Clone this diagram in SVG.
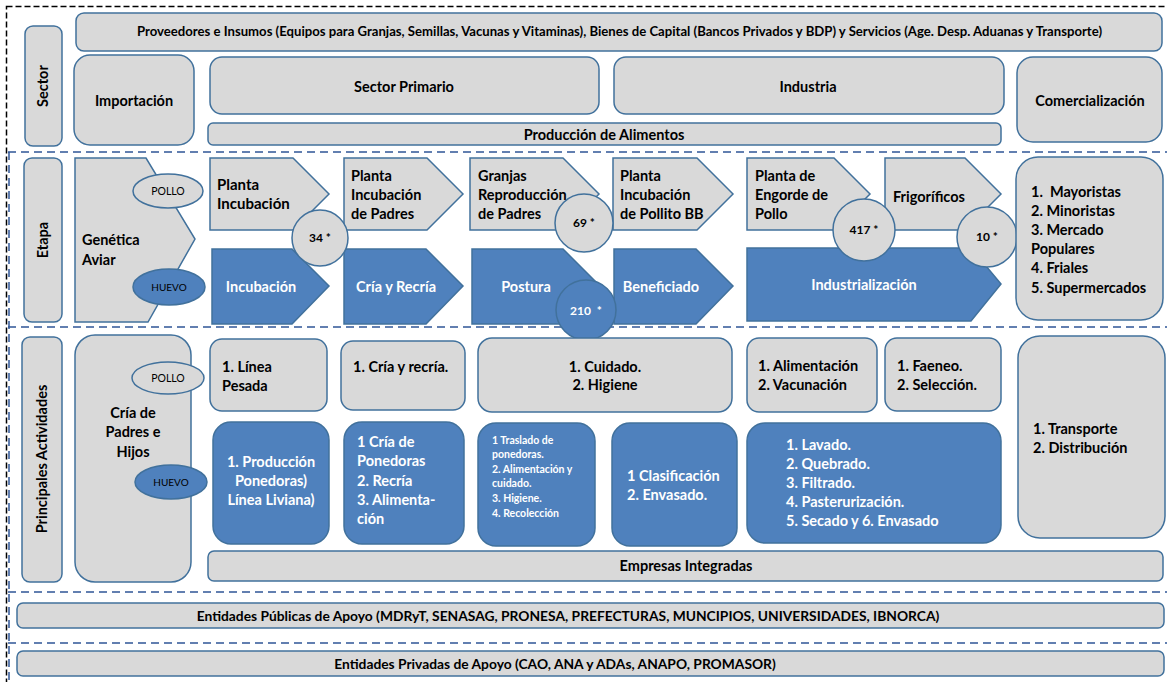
<svg xmlns="http://www.w3.org/2000/svg" width="1167" height="682" viewBox="0 0 1167 682">
<style>
.g{fill:#D9D9D9;stroke:#41719C;stroke-width:1.5}
.b{fill:#4F81BD;stroke:#41719C;stroke-width:1.5}
.t{font-family:Lato,"Liberation Sans",sans-serif;font-weight:bold;fill:#000;font-size:14.5px}
.w{fill:#fff}
.c{text-anchor:middle}
.s{font-size:13px}
.e{font-family:Lato,"Liberation Sans",sans-serif;font-size:10.5px;fill:#000;text-anchor:middle}
.n{font-size:12px}
.sep{stroke:#2F5597;stroke-width:1.5;stroke-dasharray:8 5;fill:none}
</style>
<rect width="1167" height="682" fill="#fff"/>
<g id="frame">
<rect x="6.5" y="6.5" width="1170" height="690" fill="none" stroke="#000" stroke-width="1.5" stroke-dasharray="6 3"/>
<line class="sep" x1="8" y1="152" x2="1167" y2="152"/>
<line class="sep" x1="8" y1="327" x2="1167" y2="327"/>
<line class="sep" x1="8" y1="592" x2="1167" y2="592"/>
<line class="sep" x1="8" y1="643" x2="1167" y2="643"/>
<line class="sep" x1="9" y1="152" x2="9" y2="682"/>
</g>
<g id="sector-row">
<g id="n-sector"><rect class="g" x="25" y="26" width="37" height="120" rx="8"/><text class="t c" transform="translate(48,86) rotate(-90)">Sector</text></g>
<g id="n-proveedores"><rect class="g" x="76" y="13" width="1086" height="38" rx="8"/><text class="t c s" x="619.5" y="36" textLength="965" lengthAdjust="spacingAndGlyphs">Proveedores e Insumos (Equipos para Granjas, Semillas, Vacunas y Vitaminas), Bienes de Capital (Bancos Privados y BDP) y Servicios (Age. Desp. Aduanas y Transporte)</text></g>
<g id="n-importacion"><rect class="g" x="74" y="55" width="120" height="90" rx="16"/><text class="t c" x="134" y="106">Importación</text></g>
<g id="n-primario"><rect class="g" x="210" y="57" width="389" height="57" rx="12"/><text class="t c" x="404" y="92">Sector Primario</text></g>
<g id="n-industria"><rect class="g" x="614" y="57" width="390" height="57" rx="12"/><text class="t c" x="808" y="92">Industria</text></g>
<g id="n-comercializacion"><rect class="g" x="1017" y="57" width="145" height="85" rx="16"/><text class="t c" x="1090" y="106">Comercialización</text></g>
<g id="n-produccion"><rect class="g" x="208" y="123" width="793" height="22" rx="5"/><text class="t c" x="604" y="140">Producción de Alimentos</text></g>
</g>
<g id="etapa-row">
<g id="n-etapa"><rect class="g" x="24" y="158" width="38" height="164" rx="8"/><text class="t c" transform="translate(48,240) rotate(-90)">Etapa</text></g>
<g id="n-genetica"><polygon class="g" points="75,158 146,158 195,239 148,322 75,322"/><text class="t" x="82" y="245">Genética</text><text class="t" x="82" y="265">Aviar</text></g>
<g id="n-e-pollo"><ellipse class="g" cx="168" cy="191" rx="35" ry="17"/><text class="e" x="168" y="195">POLLO</text></g>
<g id="n-e-huevo"><ellipse class="b" cx="169" cy="287" rx="36" ry="18"/><text class="e w" x="169" y="291" style="font-size:10px">HUEVO</text></g>
<g id="n-p1"><polygon class="g" points="210,158 293,158 329,194 293,230 210,230"/><text class="t" x="217" y="190" style="font-size:15px">Planta</text><text class="t" x="217" y="209" style="font-size:15px">Incubación</text></g>
<g id="n-p2"><polygon class="g" points="344,158 427,158 463,194 427,230 344,230"/><text class="t" x="351" y="181">Planta</text><text class="t" x="351" y="200">Incubación</text><text class="t" x="351" y="219">de Padres</text></g>
<g id="n-p3"><polygon class="g" points="470,158 563,158 599,194 563,230 470,230"/><text class="t" x="478" y="181">Granjas</text><text class="t" x="478" y="200">Reproducción</text><text class="t" x="478" y="219">de Padres</text></g>
<g id="n-p4"><polygon class="g" points="613,158 697,158 733,194 697,230 613,230"/><text class="t" x="620" y="181">Planta</text><text class="t" x="620" y="200">Incubación</text><text class="t" x="620" y="219">de Pollito BB</text></g>
<g id="n-p5"><polygon class="g" points="747,158 834,158 870,194 834,230 747,230"/><text class="t" x="755" y="181">Planta de</text><text class="t" x="755" y="200">Engorde de</text><text class="t" x="755" y="219">Pollo</text></g>
<g id="n-p6"><polygon class="g" points="885,158 965,158 1001,194 965,230 885,230"/><text class="t" x="893" y="202">Frigoríficos</text></g>
<g id="n-b1"><polygon class="b" points="212,249 292,249 329,286 292,324 212,324"/><text class="t w c" x="261" y="292">Incubación</text></g>
<g id="n-b2"><polygon class="b" points="344,249 426,249 463,286 426,324 344,324"/><text class="t w c" x="396" y="292">Cría y Recría</text></g>
<g id="n-b3"><polygon class="b" points="472,249 563,249 600,286 563,324 472,324"/><text class="t w c" x="526" y="292">Postura</text></g>
<g id="n-b4"><polygon class="b" points="614,249 696,249 733,286 696,324 614,324"/><text class="t w c" x="661" y="292">Beneficiado</text></g>
<g id="n-b5"><polygon class="b" points="747,248 971,248 1001,284 971,321 747,321"/><text class="t w c" x="864" y="290">Industrialización</text></g>
<g id="n-c34"><circle class="g" cx="320" cy="238" r="28"/><text class="t c n" x="320" y="242">34 *</text></g>
<g id="n-c69"><circle class="g" cx="584" cy="223" r="29"/><text class="t c n" x="584" y="227">69 *</text></g>
<g id="n-c210"><circle class="b" cx="586" cy="310" r="30"/><text class="t c n w" x="586" y="315" xml:space="preserve">210  *</text></g>
<g id="n-c417"><circle class="g" cx="864" cy="230" r="31"/><text class="t c n" x="864" y="234">417 *</text></g>
<g id="n-c10"><circle class="g" cx="987" cy="237" r="30"/><text class="t c n" x="987" y="241">10 *</text></g>
<g id="n-lista"><rect class="g" x="1016" y="157" width="147" height="163" rx="22"/>
<text class="t" x="1031" y="197" xml:space="preserve">1.  Mayoristas</text><text class="t" x="1031" y="216">2. Minoristas</text><text class="t" x="1031" y="235">3. Mercado</text><text class="t" x="1031" y="254">Populares</text><text class="t" x="1031" y="273">4. Friales</text><text class="t" x="1031" y="293">5. Supermercados</text></g>
</g>
<g id="actividades-row">
<g id="n-actividades"><rect class="g" x="22" y="337" width="40" height="245" rx="8"/><text class="t c" transform="translate(47,459) rotate(-90)">Principales Actividades</text></g>
<g id="n-cria-padres"><rect class="g" x="75" y="335" width="116" height="247" rx="20"/><text class="t c" x="133" y="418">Cría de</text><text class="t c" x="133" y="437">Padres e</text><text class="t c" x="133" y="457">Hijos</text></g>
<g id="n-a-pollo"><ellipse class="g" cx="168" cy="378" rx="36" ry="16"/><text class="e" x="168" y="382">POLLO</text></g>
<g id="n-a-huevo"><ellipse class="b" cx="171" cy="482" rx="36" ry="17"/><text class="e w" x="171" y="486" style="font-size:10px">HUEVO</text></g>
<g id="n-a1"><rect class="g" x="210" y="339" width="117" height="72" rx="12"/><text class="t" x="222" y="372">1. Línea</text><text class="t" x="222" y="391">Pesada</text></g>
<g id="n-a2"><rect class="g" x="341" y="341" width="124" height="69" rx="12"/><text class="t" x="353" y="372">1. Cría y recría.</text></g>
<g id="n-a3"><rect class="g" x="478" y="338" width="254" height="74" rx="14"/><text class="t c" x="605" y="372">1. Cuidado.</text><text class="t c" x="605" y="390">2. Higiene</text></g>
<g id="n-a4"><rect class="g" x="747" y="338" width="130" height="74" rx="12"/><text class="t" x="758" y="371">1. Alimentación</text><text class="t" x="758" y="390">2. Vacunación</text></g>
<g id="n-a5"><rect class="g" x="885" y="338" width="116" height="73" rx="12"/><text class="t" x="897" y="371">1. Faeneo.</text><text class="t" x="897" y="390">2. Selección.</text></g>
<g id="n-a6"><rect class="g" x="1018" y="336" width="147" height="202" rx="22"/><text class="t" x="1033" y="434">1. Transporte</text><text class="t" x="1033" y="453">2. Distribución</text></g>
<g id="n-h1"><rect class="b" x="213" y="422" width="116" height="122" rx="18"/><text class="t w c" x="271" y="467">1. Producción</text><text class="t w c" x="271" y="486">Ponedoras)</text><text class="t w c" x="271" y="505">Línea Liviana)</text></g>
<g id="n-h2"><rect class="b" x="344" y="422" width="120" height="122" rx="18"/><text class="t w" x="357" y="447">1 Cría de</text><text class="t w" x="357" y="466">Ponedoras</text><text class="t w" x="357" y="486">2. Recría</text><text class="t w" x="357" y="505">3. Alimenta-</text><text class="t w" x="357" y="524">ción</text></g>
<g id="n-h3"><rect class="b" x="478" y="423" width="117" height="123" rx="18"/><g class="t w" style="font-size:10.5px"><text x="492" y="444">1 Traslado de</text><text x="492" y="458">ponedoras.</text><text x="492" y="473">2. Alimentación y</text><text x="492" y="487">cuidado.</text><text x="492" y="502">3. Higiene.</text><text x="492" y="517">4. Recolección</text></g></g>
<g id="n-h4"><rect class="b" x="612" y="423" width="125" height="123" rx="18"/><text class="t w" x="627" y="481">1 Clasificación</text><text class="t w" x="627" y="500">2. Envasado.</text></g>
<g id="n-h5"><rect class="b" x="747" y="423" width="254" height="120" rx="18"/><text class="t w" x="786" y="450">1. Lavado.</text><text class="t w" x="786" y="469">2. Quebrado.</text><text class="t w" x="786" y="488">3. Filtrado.</text><text class="t w" x="786" y="507">4. Pasterurización.</text><text class="t w" x="786" y="526">5. Secado y 6. Envasado</text></g>
<g id="n-empresas"><rect class="g" x="208" y="551" width="955" height="30" rx="6"/><text class="t c" x="686" y="571">Empresas Integradas</text></g>
</g>
<g id="n-publicas"><rect class="g" x="17" y="603" width="1147" height="25" rx="6"/><text class="t c" x="568" y="621" style="font-size:13.8px">Entidades Públicas de Apoyo (MDRyT, SENASAG, PRONESA, PREFECTURAS, MUNCIPIOS, UNIVERSIDADES, IBNORCA)</text></g>
<g id="n-privadas"><rect class="g" x="17" y="651" width="1147" height="25" rx="6"/><text class="t c" x="555" y="669" style="font-size:13.8px">Entidades Privadas de Apoyo (CAO, ANA y ADAs, ANAPO, PROMASOR)</text></g>
<g id="connectors"></g>
</svg>
